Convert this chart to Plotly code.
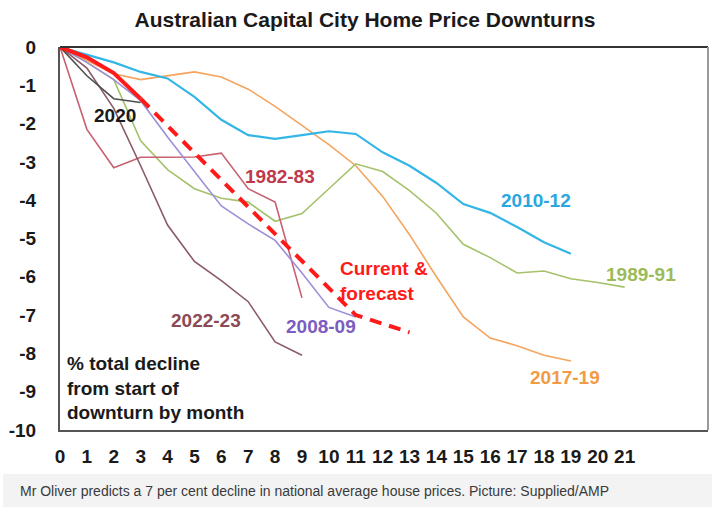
import plotly.graph_objects as go

FONT = "Liberation Sans, Arial, sans-serif"

months = list(range(0, 22))
tick_labels_x = [str(m) for m in range(0, 22)]
y_ticks = list(range(0, -11, -1))
y_tick_labels = [str(v) for v in y_ticks]

s2010_12 = [0, -0.2, -0.4, -0.65, -0.82, -1.3, -1.9, -2.3, -2.4, -2.3, -2.2, -2.27,
            -2.75, -3.1, -3.55, -4.1, -4.33, -4.7, -5.1, -5.4]
s2017_19 = [0, -0.35, -0.7, -0.85, -0.75, -0.65, -0.78, -1.1, -1.55, -2.05, -2.55, -3.1,
            -3.9, -4.9, -6.0, -7.05, -7.6, -7.8, -8.05, -8.2]
s1989_91 = [0, -0.4, -0.85, -2.45, -3.2, -3.7, -3.95, -4.05, -4.55, -4.35, -3.7, -3.05,
            -3.25, -3.75, -4.34, -5.15, -5.5, -5.9, -5.85, -6.05, -6.15, -6.27]
s1982_83 = [0, -2.15, -3.15, -2.88, -2.88, -2.87, -2.77, -3.7, -4.05, -6.55]
s2022_23 = [0, -0.55, -1.6, -3.1, -4.65, -5.6, -6.1, -6.65, -7.7, -8.05]
s2008_09 = [0, -0.4, -0.85, -1.4, -2.35, -3.25, -4.15, -4.62, -5.05, -5.9, -6.8, -7.05]
s2020 = [0, -0.75, -1.35, -1.45]
current_months = [0, 1, 2, 3]
current_vals = [0, -0.27, -0.68, -1.35]
forecast_months = [3, 11, 13]
forecast_vals = [-1.35, -7.0, -7.45]

fig = go.Figure()

def line(x, y, color, width, dash="solid"):
    fig.add_trace(go.Scatter(x=x, y=y, mode="lines", showlegend=False, hoverinfo="skip",
                             line=dict(color=color, width=width, dash=dash)))

line(months[:len(s2017_19)], s2017_19, "#f5a45d", 1.6)
line(months[:len(s1989_91)], s1989_91, "#a5c26b", 1.6)
line(months[:len(s2010_12)], s2010_12, "#33b6e6", 2.2)
line(months[:len(s1982_83)], s1982_83, "#c8606f", 1.6)
line(months[:len(s2008_09)], s2008_09, "#9d8fd8", 1.6)
line(months[:len(s2022_23)], s2022_23, "#8a5a66", 1.6)
line(months[:len(s2020)], s2020, "#505050", 1.6)
line(current_months, current_vals, "#ff1a1a", 4)
line(forecast_months, forecast_vals, "#ff1a1a", 4, dash="12px,8px")

labels = [
    ("2020", 2.04, -1.78, "#1a1a1a", "center"),
    ("1982-83", 8.18, -3.37, "#c0394b", "center"),
    ("2010-12", 17.7, -4.02, "#2aa7df", "center"),
    ("1989-91", 21.6, -5.93, "#9bbb59", "center"),
    ("Current &<br>forecast", 10.33, -6.12, "#ff1a1a", "left"),
    ("2022-23", 5.43, -7.13, "#8b4a55", "center"),
    ("2008-09", 9.7, -7.31, "#7b5cc0", "center"),
    ("2017-19", 18.77, -8.64, "#f29b45", "center"),
    ("% total decline<br>from start of<br>downturn by month", 0.19, -8.9, "#1a1a1a", "left"),
]
for text, x, y, color, anchor in labels:
    fig.add_annotation(x=x, y=y, text="<b>" + text + "</b>", showarrow=False,
                       xanchor=anchor, yanchor="middle", align="left",
                       font=dict(family=FONT, size=19, color=color))

# caption bar
fig.add_shape(type="rect", xref="paper", yref="paper", x0=-0.088, x1=1.006,
              y0=-0.201, y1=-0.115, fillcolor="#f3f3f3", line=dict(width=0), layer="below")
fig.add_annotation(xref="paper", yref="paper", x=-0.065, y=-0.159, xanchor="left",
                   yanchor="middle", showarrow=False,
                   text="Mr Oliver predicts a 7 per cent decline in national average house prices. Picture: Supplied/AMP",
                   font=dict(family=FONT, size=14, color="#3a3a3a"))

# frame: top and right borders
fig.add_shape(type="line", xref="paper", yref="paper", x0=0, x1=1, y0=1, y1=1,
              line=dict(color="#333333", width=2))
fig.add_shape(type="line", xref="paper", yref="paper", x0=1, x1=1, y0=0, y1=1,
              line=dict(color="#999999", width=2))

tickfont = dict(family=FONT, size=19, color="#1a1a1a", weight="bold")

fig.update_layout(
    width=718, height=507,
    margin=dict(l=60, r=10, t=47, b=77),
    paper_bgcolor="white", plot_bgcolor="white",
    title=dict(text="<b>Australian Capital City Home Price Downturns</b>",
               x=365 / 718, xanchor="center", y=1 - 20 / 507, yanchor="middle",
               font=dict(family=FONT, size=21, color="#1a1a1a")),
    xaxis=dict(range=[0, 24.1], tickvals=months, ticktext=tick_labels_x,
               showgrid=False, zeroline=False, showline=True, linecolor="#555555",
               linewidth=2, ticks="", ticklabelstandoff=8, tickfont=tickfont),
    yaxis=dict(range=[-10.001, 0.001], tickvals=y_ticks, ticktext=y_tick_labels,
               showgrid=False, zeroline=False, showline=True, linecolor="#555555",
               linewidth=2, ticks="", ticklabelstandoff=18, tickfont=tickfont),
)

fig.write_html("out.html")
